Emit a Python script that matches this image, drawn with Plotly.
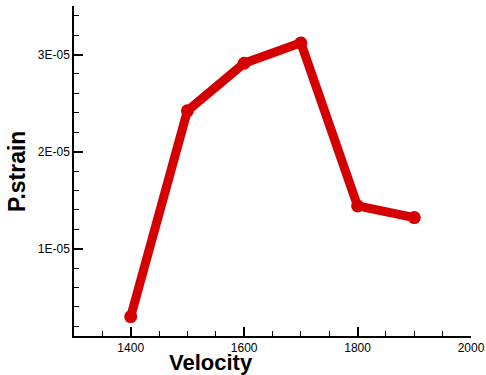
import plotly.graph_objects as go

velocity = [1400, 1500, 1600, 1700, 1800, 1900]
p_strain = [3.0e-6, 2.42e-5, 2.91e-5, 3.12e-5, 1.44e-5, 1.32e-5]

y_tickvals = [1e-5, 2e-5, 3e-5]
y_ticktext = ["1E-05", "2E-05", "3E-05"]
x_tickvals = [1400, 1600, 1800, 2000]

fig = go.Figure()
fig.add_trace(go.Scatter(
    x=velocity, y=p_strain, mode="lines+markers",
    line=dict(color="#d40000", width=9),
    marker=dict(color="#d40000", size=13),
    showlegend=False,
))

fig.update_layout(
    width=486, height=375,
    margin=dict(l=74, r=15, t=6, b=39, autoexpand=False),
    paper_bgcolor="white", plot_bgcolor="white",
    font=dict(family="Arial, Liberation Sans, sans-serif", color="black"),
    annotations=[
        dict(text="<b>Velocity</b>", xref="paper", yref="paper", x=0.345, y=-0.0795,
             xanchor="center", yanchor="middle", showarrow=False, font=dict(size=22),
             borderpad=0),
        dict(text="<b>P.strain</b>", xref="paper", yref="paper", x=-0.1436, y=0.5,
             xanchor="center", yanchor="middle", showarrow=False, textangle=-90,
             font=dict(size=23)),
    ],
)
fig.update_xaxes(
    range=[1300, 2000], tickvals=x_tickvals, automargin=False,
    showline=True, linecolor="black", linewidth=1.5,
    ticks="inside", ticklen=9, tickwidth=1.5, tickcolor="black",
    minor=dict(dtick=50, ticks="inside", ticklen=5, tickwidth=1, tickcolor="black"),
    showgrid=False, zeroline=False,
    tickfont=dict(size=12),
)
fig.update_yaxes(
    range=[1e-6, 3.5e-5], tickvals=y_tickvals, ticktext=y_ticktext, automargin=False,
    showline=True, linecolor="black", linewidth=1.5,
    ticks="inside", ticklen=9, tickwidth=1.5, tickcolor="black",
    minor=dict(tick0=0, dtick=2e-6, ticks="inside", ticklen=5, tickwidth=1, tickcolor="black"),
    showgrid=False, zeroline=False,
    tickfont=dict(size=12),
)

fig.write_html("out.html", config={"displayModeBar": False},
               post_script="document.body.style.margin='0';document.body.style.overflow='hidden';")
